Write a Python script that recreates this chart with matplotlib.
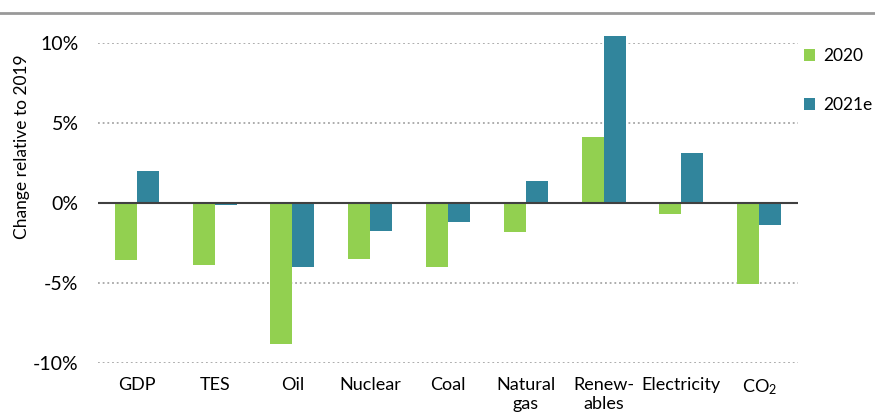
import matplotlib.pyplot as plt
from matplotlib.lines import Line2D
from matplotlib.patches import Patch
import numpy as np

# Data (% change relative to 2019)
categories = ['GDP', 'TES', 'Oil', 'Nuclear', 'Coal', 'Natural\ngas',
              'Renew-\nables', 'Electricity', 'CO$_2$']
series_labels = ['2020', '2021e']
values_2020 = [-3.55, -3.9, -8.8, -3.5, -4.0, -1.8, 4.1, -0.7, -5.05]
values_2021 = [2.0, -0.15, -4.0, -1.75, -1.2, 1.4, 10.45, 3.1, -1.4]
yticks = [-10, -5, 0, 5, 10]

colors = ['#92D050', '#31859C']

plt.rcParams['font.family'] = ['Lato', 'DejaVu Sans']
plt.rcParams['mathtext.fontset'] = 'custom'
plt.rcParams['mathtext.rm'] = 'Lato'
plt.rcParams['mathtext.it'] = 'Lato:italic'
plt.rcParams['font.size'] = 13

W, H = 875, 417
fig = plt.figure(figsize=(W / 100, H / 100), dpi=100)
ax = fig.add_axes([98 / W, (H - 363) / H, 700 / W, 320 / H])

x = np.arange(len(categories))
bw = 0.283
ax.bar(x - bw / 2, values_2020, bw, color=colors[0], label=series_labels[0], zorder=3, clip_on=False)
ax.bar(x + bw / 2, values_2021, bw, color=colors[1], label=series_labels[1], zorder=3, clip_on=False)

ax.set_xlim(-0.5, len(categories) - 0.5)
ax.set_ylim(-10, 10)

# dotted gridlines, solid zero line
for t in yticks:
    if t == 0:
        ax.axhline(0, color='#404040', lw=1.5, zorder=4)
    else:
        ax.axhline(t, color='#A6A6A6', lw=1.3, linestyle=(0, (1, 1.6)), zorder=1)

ax.set_yticks(yticks)
ax.set_yticklabels([f'{t}%' for t in yticks], fontsize=14)
ax.set_xticks(x)
ax.set_xticklabels(categories, linespacing=1.25, va='top')
ax.tick_params(axis='y', length=0, pad=14)
ax.tick_params(axis='x', length=0, pad=10)
for s in ax.spines.values():
    s.set_visible(False)

ax.set_ylabel('Change relative to 2019', fontsize=12.5)
ax.yaxis.set_label_coords(-0.097, 0.675)

# legend on the right
handles = [Patch(facecolor=c) for c in colors]
fig.legend(handles, series_labels, loc='upper left', bbox_to_anchor=(797 / W, 1 - 41 / H),
           frameon=False, fontsize=12.5, handlelength=0.65, handleheight=0.65,
           handletextpad=0.45, labelspacing=1.9, borderaxespad=0)

# grey rule across the top
fig.add_artist(Line2D([0, 1], [1 - 13 / H, 1 - 13 / H], color='#999999', lw=2))

fig.savefig('out.png', dpi=100)
